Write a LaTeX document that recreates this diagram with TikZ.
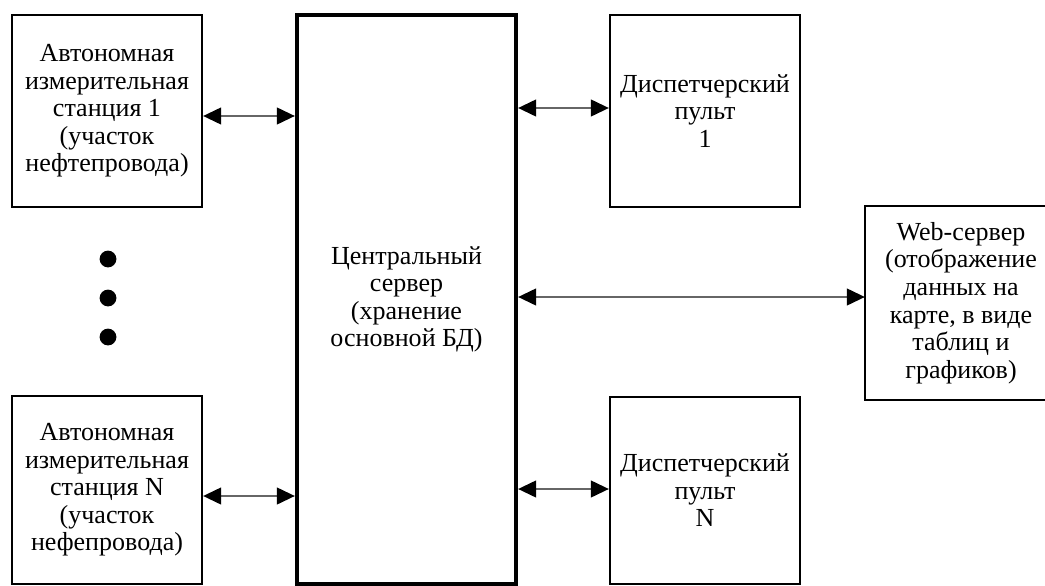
\documentclass[tikz,border=0pt]{standalone}
\usepackage{fontspec}
\setmainfont{Liberation Serif}
\usetikzlibrary{arrows.meta,positioning}
\tikzset{
  unitbox/.style={draw, line width=1.6pt, minimum width=4.75cm, minimum height=4.8cm,
                  align=center, inner sep=2pt, font=\fontsize{18.5}{19.6}\selectfont},
  serverbox/.style={unitbox, line width=3pt, minimum width=5.475cm, minimum height=14.225cm},
  openbox/.style={unitbox, draw=none},
  dotnode/.style={circle, fill=black, inner sep=0pt, minimum size=0.42cm},
  biarrow/.style={{Triangle[length=0.45cm,width=0.42cm,color=black]}-{Triangle[length=0.45cm,width=0.42cm,color=black]},
                  line width=1.3pt, draw=black!60},
}
\begin{document}
\begin{tikzpicture}[x=0.025cm, y=-0.025cm]
\useasboundingbox (0,0) rectangle (1045,585);
\clip (0,0) rectangle (1045,585);

% measuring stations on the left
\node[unitbox] (st1) at (107,111)
  {Автономная\\измерительная\\станция 1\\(участок\\нефтепровода)};
\node[unitbox, minimum height=4.7cm] (stN) at (107,490)
  {Автономная\\измерительная\\станция N\\(участок\\нефепровода)};
\foreach \y [count=\i] in {259,298,337}
  \node[dotnode] (dot\i) at (108,\y) {};

% central server
\node[serverbox] (server) at (406.5,299.5)
  {Центральный\\сервер\\(хранение\\основной БД)};

% dispatcher desks
\node[unitbox] (disp1) at (705,111) {Диспетчерский\\пульт\\1};
\node[unitbox, minimum height=4.675cm] (dispN) at (705,490.5) {Диспетчерский\\пульт\\N};

% web server, its right side is cut off by the margin
\node[openbox] (web) at (961,303)
  {Web-сервер\\(отображение\\данных на\\карте, в виде\\таблиц и\\графиков)};
\draw[line width=1.6pt] (web.north east) -- (web.north west) -- (web.south west) -- (web.south east);

% links
\draw[biarrow] (st1.east |- 0,116) -- (server.west |- 0,116);
\draw[biarrow] (stN.east |- 0,496) -- (server.west |- 0,496);
\draw[biarrow] (server.east |- 0,108) -- (disp1.west |- 0,108);
\draw[biarrow] (server.east |- 0,489) -- (dispN.west |- 0,489);
\draw[biarrow] (server.east |- 0,297) -- (web.west |- 0,297);
\end{tikzpicture}
\end{document}
